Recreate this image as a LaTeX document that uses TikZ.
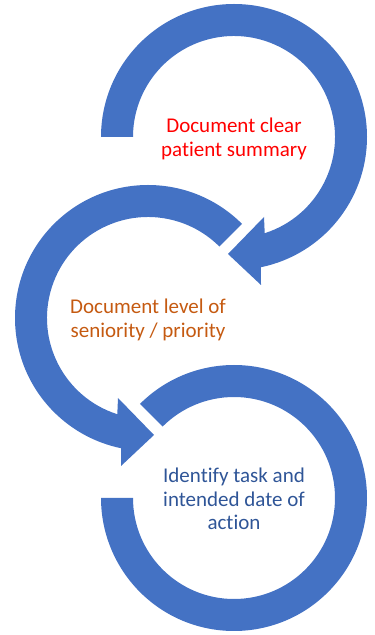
\documentclass[tikz,border=0pt]{standalone}
\usepackage{fontspec}
\setmainfont[Ligatures=NoCommon]{Carlito}
\usepackage{xcolor}
\usetikzlibrary{positioning,calc}
\definecolor{ringblue}{HTML}{4472C4}
\definecolor{txtred}{HTML}{FF0000}
\definecolor{txtorange}{HTML}{C55A11}
\definecolor{txtblue}{HTML}{2F5597}

\begin{document}
\begin{tikzpicture}[x=1pt, y=1pt,
    ring/.style={fill=ringblue, draw=none},
    steptext/.style={align=center, inner sep=0pt, font=\fontsize{21}{23.3}\selectfont}]
    \useasboundingbox (0,0) rectangle (375,635);
    \coordinate (c1) at (234,498);
    \coordinate (c2) at (148,317);
    \coordinate (c3) at (234,137);
    % first ring, clockwise, arrow at the bottom
    \begin{scope}[shift={(c1)}]
        \fill[ring] (180:133) arc[start angle=180, end angle=-78.3, radius=133]
            -- (27,-148) -- (-6,-117) -- (30,-80)
            -- (-72.3:101) arc[start angle=-72.3, end angle=180, radius=101] -- cycle;
    \end{scope}
    % second ring, anticlockwise
    \begin{scope}[shift={(c2)}]
        \fill[ring] (45:133) arc[start angle=45, end angle=258.3, radius=133]
            -- (-27,-148) -- (6,-117) -- (-30,-80)
            -- (252.3:101) arc[start angle=252.3, end angle=45, radius=101] -- cycle;
    \end{scope}
    % third ring, open at the left
    \begin{scope}[shift={(c3)}]
        \fill[ring] (135:133) arc[start angle=135, end angle=-180, radius=133]
            -- (-180:101) arc[start angle=-180, end angle=135, radius=101] -- cycle;
    \end{scope}
    \node[steptext, text=txtred] (summary) at ($(c1)+(0,-2)$) {Document clear\\patient summary};
    \node[steptext, text=txtorange] (priority) at ($(c2)+(0,-2)$) {Document level of\\seniority / priority};
    \node[steptext, text=txtblue] (action) at ($(c3)+(0,-1)$) {Identify task and\\intended date of\\action};
\end{tikzpicture}
\end{document}
